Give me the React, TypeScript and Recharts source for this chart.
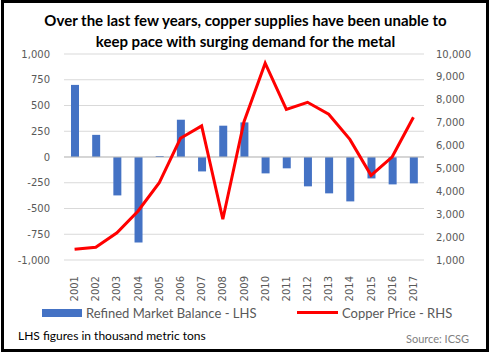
import {
  ComposedChart,
  Bar,
  Line,
  XAxis,
  YAxis,
  CartesianGrid,
  ReferenceLine,
} from "recharts";

// Years on the category axis
const years = [
  "2001", "2002", "2003", "2004", "2005", "2006", "2007", "2008", "2009",
  "2010", "2011", "2012", "2013", "2014", "2015", "2016", "2017",
];

// Refined market balance, thousand metric tons (LHS)
const marketBalance = [
  700, 215, -373, -829, 10, 362, -140, 304, 336,
  -159, -110, -285, -353, -431, -208, -266, -256,
];

// Copper price, USD/t (RHS)
const copperPrice = [
  1470, 1560, 2190, 3140, 4380, 6320, 6860, 2780, 7040,
  9600, 7580, 7890, 7370, 6270, 4700, 5510, 7240,
];

const leftTicks = [-1000, -750, -500, -250, 0, 250, 500, 750, 1000];
const rightTicks = [1000, 2000, 3000, 4000, 5000, 6000, 7000, 8000, 9000, 10000];

const data = years.map((year, i) => ({
  year,
  balance: marketBalance[i],
  price: copperPrice[i],
}));

const BLUE = "#4472C4";
const RED = "#FF0000";
const GREY = "#595959";
const GRID = "#D9D9D9";

const fmt = (v: number) => v.toLocaleString("en-US");

// rotated year labels under the plot
const YearTick = (props: any) => {
  const { x, y, payload } = props;
  return (
    <text
      x={x}
      y={y}
      dy="0.35em"
      transform={`rotate(-90, ${x}, ${y})`}
      textAnchor="end"
      fill={GREY}
      fontSize={10}
      fontFamily="DejaVu Sans"
    >
      {payload.value}
    </text>
  );
};

const App = () => {
  return (
    <div
      style={{
        position: "absolute",
        left: 0,
        top: 0,
        width: 491,
        height: 355,
        background: "#fff",
        fontFamily: "Lato",
      }}
    >
      <div
        style={{
          position: "absolute",
          left: 1,
          top: 0,
          width: 488,
          height: 352,
          border: "3px solid #000",
          boxSizing: "border-box",
        }}
      />
      <div
        style={{
          position: "absolute",
          left: 0,
          top: 10,
          width: 491,
          textAlign: "center",
          fontWeight: 700,
          fontSize: 15,
          lineHeight: "21px",
          color: "#000",
        }}
      >
        Over the last few years, copper supplies have been unable to
        <br />
        keep pace with surging demand for the metal
      </div>

      <div style={{ position: "absolute", left: 0, top: 0 }}>
        <ComposedChart
          width={491}
          height={355}
          data={data}
          margin={{ top: 54, right: 0, bottom: 65, left: 0 }}
        >
          <CartesianGrid
            yAxisId="left"
            vertical={false}
            stroke={GRID}
            strokeWidth={1}
          />
          <XAxis
            dataKey="year"
            height={30}
            axisLine={false}
            tickLine={false}
            tickSize={0}
            tickMargin={16}
            interval={0}
            tick={<YearTick />}
          />
          <YAxis
            yAxisId="left"
            width={64}
            domain={[-1000, 1000]}
            ticks={leftTicks}
            tickFormatter={fmt}
            axisLine={false}
            tickLine={false}
            tickSize={0}
            tickMargin={14}
            tick={{ fill: GREY, fontSize: 10, fontFamily: "DejaVu Sans" }}
          />
          <YAxis
            yAxisId="right"
            orientation="right"
            width={67}
            domain={[1000, 10000]}
            ticks={rightTicks}
            tickFormatter={fmt}
            axisLine={false}
            tickLine={false}
            tickSize={0}
            tickMargin={12}
            tick={{ fill: GREY, fontSize: 10, fontFamily: "DejaVu Sans", textAnchor: "start" }}
          />
          <ReferenceLine yAxisId="left" y={0} stroke="#BFBFBF" strokeWidth={1} />
          <Bar
            yAxisId="left"
            dataKey="balance"
            fill={BLUE}
            barSize={8}
            isAnimationActive={false}
          />
          <Line
            yAxisId="right"
            dataKey="price"
            type="linear"
            stroke={RED}
            strokeWidth={3}
            dot={false}
            isAnimationActive={false}
          />
        </ComposedChart>
      </div>

      {/* legend */}
      <div
        style={{
          position: "absolute",
          left: 42,
          top: 309,
          width: 40,
          height: 8,
          background: BLUE,
        }}
      />
      <div
        style={{
          position: "absolute",
          left: 86,
          top: 304,
          fontSize: 13,
          lineHeight: "18px",
          color: GREY,
          whiteSpace: "nowrap",
        }}
      >
        Refined Market Balance - LHS
      </div>
      <div
        style={{
          position: "absolute",
          left: 297,
          top: 311,
          width: 41,
          height: 3,
          background: RED,
        }}
      />
      <div
        style={{
          position: "absolute",
          left: 342,
          top: 304,
          fontSize: 13,
          lineHeight: "18px",
          color: GREY,
          whiteSpace: "nowrap",
        }}
      >
        Copper Price - RHS
      </div>

      {/* footer */}
      <div
        style={{
          position: "absolute",
          left: 18,
          top: 328,
          fontSize: 12,
          lineHeight: "16px",
          color: "#000",
          whiteSpace: "nowrap",
        }}
      >
        LHS figures in thousand metric tons
      </div>
      <div
        style={{
          position: "absolute",
          left: 406,
          top: 331,
          fontSize: 11,
          lineHeight: "16px",
          color: "#7F7F7F",
          whiteSpace: "nowrap",
        }}
      >
        Source: ICSG
      </div>
    </div>
  );
};

export default App;
